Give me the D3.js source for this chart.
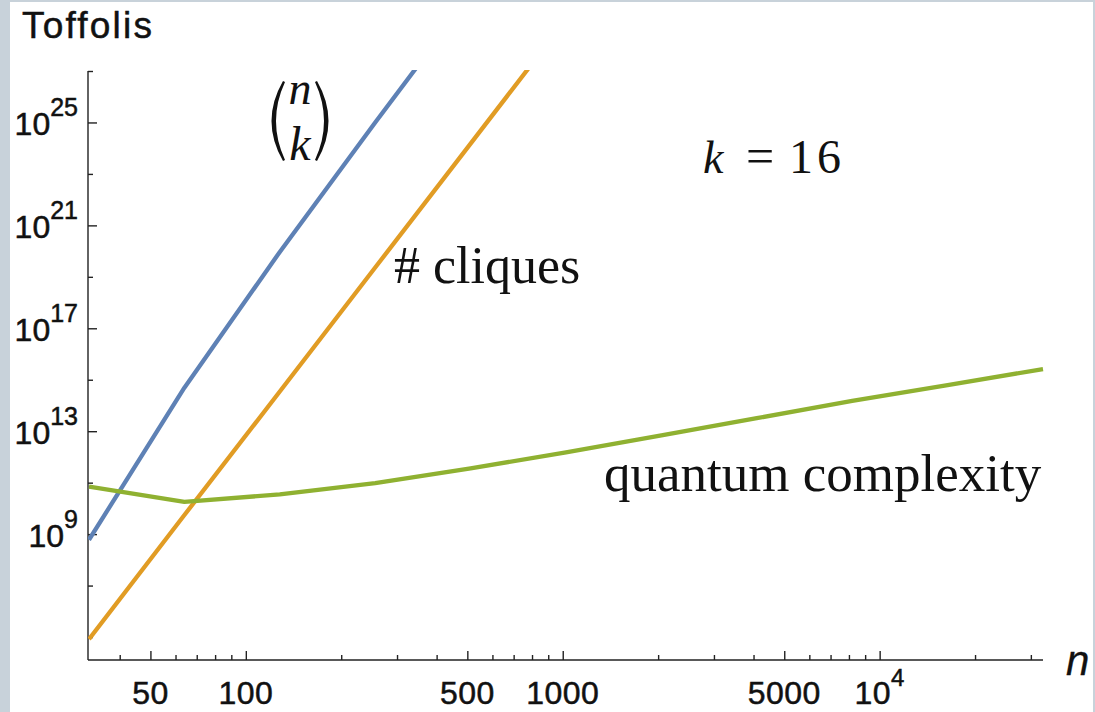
<!DOCTYPE html>
<html>
<head>
<meta charset="utf-8">
<script src="https://cdn.jsdelivr.net/npm/d3@7"></script>
<style>
  html, body { margin: 0; padding: 0; background: #c8d2da; }
  svg { display: block; }
</style>
</head>
<body>
<svg id="chart" width="1095" height="712"></svg>
<script>
// n values (powers of two) used by the curves
var nValues = [32, 64, 128, 256, 512, 1024, 2048, 4096, 8192, 16384, 32768];
// binomial(n, 16)
var binomValues = [6.0e8, 4.9e14, 9.3e19, 1.0e25, 8.5e29];
// expected number of cliques
var cliqueValues = [8.3e4, 5.5e9, 3.5e14, 2.3e19, 1.5e24, 1.0e29];
// quantum complexity (Toffolis)
var quantumValues = [7.0e10, 1.8e10, 3.5e10, 9.5e10, 3.6e11, 1.5e12, 6.9e12, 3.2e13, 1.5e14, 6.2e14, 2.6e15];

var xMajor = [50, 100, 500, 1000, 5000, 10000];
var xMinor = [40, 60, 70, 80, 90, 200, 300, 400, 600, 700, 800, 900,
              2000, 3000, 4000, 6000, 7000, 8000, 9000, 20000, 30000];
var yMajor = [1e9, 1e13, 1e17, 1e21, 1e25];
var yMinor = [1e5, 1e7, 1e11, 1e15, 1e19, 1e23, 1e27];

var svg = d3.select("#chart");

// white panel inside the grey frame
svg.append("rect")
  .attr("x", 10).attr("y", 2)
  .attr("width", 1083).attr("height", 710)
  .attr("fill", "#fff");

var x = d3.scaleLog().domain([32, 32768]).range([89, 1043]);
var y = d3.scaleLog().domain([Math.pow(10, 4.107), 1e27]).range([660, 71]);

var axisColor = "#222";

// x axis
var gx = svg.append("g").attr("transform", "translate(0,660)");
gx.call(d3.axisBottom(x).tickValues(xMajor).tickSize(-9).tickFormat(""));
gx.append("g").call(d3.axisBottom(x).tickValues(xMinor).tickSize(-5).tickFormat(""))
  .select(".domain").remove();
gx.select(".domain").attr("d", "M88,0H1043");
gx.selectAll("path, line").attr("stroke", axisColor).attr("stroke-width", 1.4);

// y axis
var gy = svg.append("g").attr("transform", "translate(88,0)");
gy.call(d3.axisLeft(y).tickValues(yMajor).tickSize(-9).tickFormat(""));
gy.append("g").call(d3.axisLeft(y).tickValues(yMinor).tickSize(-5).tickFormat(""))
  .select(".domain").remove();
gy.select(".domain").attr("d", "M0,71V660");
gy.selectAll("path, line").attr("stroke", axisColor).attr("stroke-width", 1.4);

var sans = "'Liberation Sans', Arial, sans-serif";
var serif = "'Liberation Serif', 'Times New Roman', serif";

function heavy(sel) {
  // slightly heavier strokes, like the reference's text rendering
  return sel.attr("fill", "#111").attr("stroke", "#111").attr("stroke-width", 0.5);
}

// x tick labels
xMajor.forEach(function(v) {
  var t = heavy(svg.append("text"))
    .attr("x", x(v)).attr("y", 704)
    .attr("text-anchor", "middle")
    .attr("font-family", sans).attr("font-size", 32)
    .attr("letter-spacing", 0.5);
  if (v == 10000) {
    t.append("tspan").text("10");
    t.append("tspan").attr("dy", -18).attr("font-size", 24).text("4");
  } else {
    t.text(v);
  }
});

// y tick labels
yMajor.forEach(function(v) {
  var e = Math.round(Math.log10(v));
  var t = heavy(svg.append("text"))
    .attr("x", 78).attr("y", y(v) + 13)
    .attr("text-anchor", "end")
    .attr("font-family", sans).attr("font-size", 32);
  t.append("tspan").text("10");
  t.append("tspan").attr("dy", -19).attr("font-size", 25).text(e);
});

// axis titles
heavy(svg.append("text"))
  .attr("x", 22).attr("y", 38)
  .attr("font-family", sans).attr("font-size", 37)
  .attr("letter-spacing", 2.2)
  .text("Toffolis");

heavy(svg.append("text"))
  .attr("x", 1066).attr("y", 675)
  .attr("font-family", sans).attr("font-size", 42)
  .attr("font-style", "italic")
  .attr("stroke-width", 0.3)
  .text("n");

// curves
svg.append("clipPath").attr("id", "plotclip")
  .append("rect").attr("x", 88).attr("y", 70).attr("width", 960).attr("height", 590);

var line = d3.line()
  .x(function(d) { return x(d[0]); })
  .y(function(d) { return y(d[1]); });

var series = [
  { values: binomValues, color: "#5e81b5" },
  { values: cliqueValues, color: "#e19c24" },
  { values: quantumValues, color: "#8fb131" }
];

var plot = svg.append("g").attr("clip-path", "url(#plotclip)");
series.forEach(function(s) {
  var pts = s.values.map(function(v, i) { return [nValues[i], v]; });
  plot.append("path")
    .attr("d", line(pts))
    .attr("fill", "none")
    .attr("stroke", s.color)
    .attr("stroke-width", 4.3)
    .attr("stroke-linejoin", "round");
});

// annotations
svg.append("text")
  .attr("x", 394).attr("y", 283)
  .attr("font-family", serif).attr("font-size", 52)
  .attr("fill", "#111")
  .text("# cliques");

svg.append("text")
  .attr("x", 604).attr("y", 491)
  .attr("font-family", serif).attr("font-size", 53)
  .attr("fill", "#111")
  .text("quantum complexity");

svg.append("text")
  .attr("x", 703).attr("y", 173)
  .attr("font-family", serif).attr("font-size", 46)
  .attr("font-style", "italic").attr("fill", "#111")
  .text("k");
svg.append("text")
  .attr("x", 760).attr("y", 173)
  .attr("text-anchor", "middle")
  .attr("font-family", serif).attr("font-size", 50)
  .attr("fill", "#111")
  .text("=");
svg.append("text")
  .attr("x", 789).attr("y", 173)
  .attr("font-family", serif).attr("font-size", 48)
  .attr("letter-spacing", 4)
  .attr("fill", "#111")
  .text("16");

// binomial coefficient (n over k)
svg.append("text")
  .attr("x", 300).attr("y", 104)
  .attr("text-anchor", "middle")
  .attr("font-family", serif).attr("font-size", 46)
  .attr("font-style", "italic").attr("fill", "#111")
  .text("n");
svg.append("text")
  .attr("x", 300).attr("y", 160)
  .attr("text-anchor", "middle")
  .attr("font-family", serif).attr("font-size", 48)
  .attr("font-style", "italic").attr("fill", "#111")
  .text("k");
svg.append("path")
  .attr("d", "M283,81 Q260,121 283,161 L285,160 Q267,121 285,82 Z")
  .attr("fill", "#111");
svg.append("path")
  .attr("d", "M317,81 Q340,121 317,161 L315,160 Q333,121 315,82 Z")
  .attr("fill", "#111");
</script>
</body>
</html>
